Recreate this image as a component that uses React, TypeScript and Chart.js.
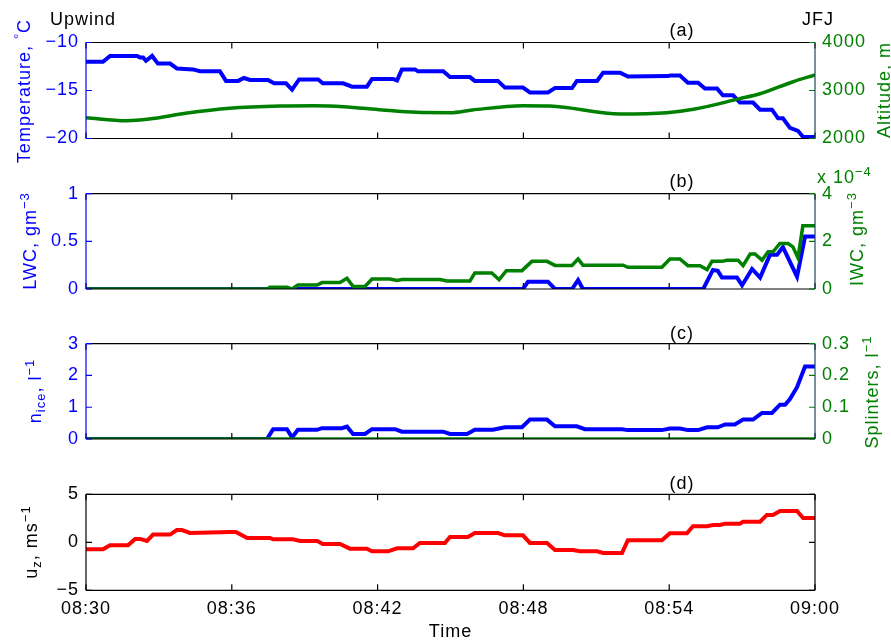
import {useEffect, useRef} from "react";
import {Chart, registerables} from "chart.js";

Chart.register(...registerables);

const BLUE = '#0000ff';
const GREEN = '#008000';
const RED = '#ff0000';
const RIGHT_AXIS = '#1d4a5c';
const FONT = '"Liberation Sans", Arial, Helvetica, sans-serif';
const SPACING = '1px';

// time axis, minutes after 08:30
const timeTickValues = [0, 6, 12, 18, 24, 30];
const timeTickLabels = ['08:30', '08:36', '08:42', '08:48', '08:54', '09:00'];

// (a) temperature, degC
const tempTime = [0, 0.70, 0.99, 2.10, 2.22, 2.35, 2.47, 2.72, 2.96, 3.46, 3.74, 4.40, 4.69, 5.51, 5.76, 6.26, 6.50, 6.75, 7.49, 7.74, 8.23, 8.48, 8.77, 9.55, 9.75, 10.58, 10.95, 11.56, 11.77, 12.63, 12.80, 13.00, 13.54, 13.66, 14.70, 14.98, 15.80, 16.00, 16.95, 17.24, 17.98, 18.27, 19.01, 19.30, 20.00, 20.20, 21.03, 21.28, 21.98, 22.30, 23.95, 24.03, 24.44, 24.77, 25.19, 25.47, 25.97, 26.21, 26.63, 26.91, 27.45, 27.74, 28.23, 28.48, 28.68, 28.97, 29.30, 29.51, 30];
const tempVals = [-12.0, -12.0, -11.4, -11.4, -11.55, -11.55, -11.9, -11.4, -12.2, -12.2, -12.7, -12.8, -13.0, -13.0, -14.0, -14.0, -13.7, -13.9, -13.9, -14.25, -14.25, -14.9, -13.85, -13.85, -14.25, -14.25, -14.6, -14.6, -13.8, -13.8, -13.95, -12.8, -12.8, -13.0, -13.0, -13.6, -13.6, -14.0, -14.0, -14.7, -14.7, -15.2, -15.2, -14.75, -14.75, -14.0, -14.0, -13.15, -13.15, -13.55, -13.5, -13.45, -13.45, -14.2, -14.2, -14.8, -14.8, -15.5, -15.5, -16.25, -16.25, -17.0, -17.0, -17.9, -17.9, -18.9, -19.2, -19.85, -19.85];

// (a) altitude, m
const altTime = [0, 1.67, 2.6, 4.1, 5.9, 8.0, 9.4, 10.6, 12.2, 13.6, 14.98, 15.9, 17.98, 19.1, 22.0, 23.9, 25.0, 26.9, 27.7, 29.1, 30];
const altVals = [2433, 2371, 2406, 2525, 2629, 2677, 2683, 2663, 2594, 2546, 2538, 2594, 2683, 2677, 2510, 2538, 2608, 2830, 2927, 3183, 3323];

// (b) LWC, g m^-3
const lwcTime = [0, 17.98, 18.19, 19.01, 19.30, 20.0, 20.25, 20.45, 25.4, 25.8, 26.0, 26.17, 26.79, 27.0, 27.41, 27.74, 28.15, 28.44, 28.68, 29.26, 29.59, 30];
const lwcVals = [0, 0, 0.077, 0.077, 0, 0, 0.094, 0, 0, 0.20, 0.19, 0.12, 0.12, 0.04, 0.21, 0.12, 0.36, 0.36, 0.44, 0.13, 0.55, 0.55];

// (b) IWC, x 10^-4 g m^-3
const iwcTime = [0, 7.45, 7.57, 8.27, 8.48, 8.72, 9.51, 9.71, 10.45, 10.74, 10.99, 11.48, 11.77, 12.51, 12.8, 13.0, 14.57, 14.86, 15.8, 16.0, 16.7, 17.0, 17.3, 17.94, 18.35, 18.97, 19.3, 20.0, 20.25, 20.45, 22.1, 22.3, 23.7, 24.03, 24.44, 24.77, 25.27, 25.56, 25.76, 26.17, 26.38, 26.83, 27.04, 27.33, 27.53, 27.82, 28.07, 28.27, 28.56, 28.89, 29.09, 29.3, 29.5, 30];
const iwcVals = [0, 0, 0.07, 0.07, 0, 0.17, 0.17, 0.27, 0.27, 0.45, 0.11, 0.11, 0.42, 0.42, 0.36, 0.40, 0.40, 0.34, 0.34, 0.67, 0.67, 0.39, 0.77, 0.77, 1.16, 1.16, 0.99, 0.99, 1.26, 1.0, 1.0, 0.91, 0.91, 1.26, 1.26, 0.98, 0.98, 0.81, 1.16, 1.16, 1.21, 1.21, 0.98, 1.47, 1.47, 1.21, 1.56, 1.56, 1.91, 1.91, 1.77, 1.30, 2.65, 2.65];

// (c) n_ice, l^-1
const niceTime = [0, 7.45, 7.7, 8.27, 8.48, 8.72, 9.51, 9.71, 10.53, 10.74, 10.99, 11.48, 11.77, 12.72, 13.0, 14.7, 14.98, 15.68, 16.0, 16.75, 17.24, 17.94, 18.27, 18.97, 19.3, 20.2, 20.53, 22.06, 22.3, 23.7, 24.03, 24.44, 24.77, 25.19, 25.56, 26.0, 26.3, 26.7, 27.04, 27.45, 27.82, 28.23, 28.56, 28.77, 28.97, 29.26, 29.59, 30];
const niceVals = [0, 0, 0.31, 0.31, 0.05, 0.29, 0.29, 0.34, 0.34, 0.39, 0.16, 0.16, 0.31, 0.31, 0.23, 0.23, 0.16, 0.16, 0.29, 0.29, 0.37, 0.37, 0.61, 0.61, 0.40, 0.40, 0.31, 0.31, 0.28, 0.28, 0.33, 0.33, 0.28, 0.28, 0.37, 0.37, 0.46, 0.46, 0.61, 0.61, 0.82, 0.82, 1.08, 1.08, 1.26, 1.63, 2.28, 2.28];

// (c) splinters, l^-1
const splTime = [0, 30];
const splVals = [0, 0];

// (d) vertical wind, m s^-1
const uzTime = [0, 0.70, 0.99, 1.73, 2.02, 2.22, 2.51, 2.76, 3.46, 3.74, 3.95, 4.28, 5.93, 6.17, 6.63, 7.57, 7.70, 8.52, 8.81, 9.51, 9.75, 10.45, 10.86, 11.56, 11.77, 12.43, 12.80, 13.46, 13.74, 14.77, 14.98, 15.72, 16.0, 16.95, 17.24, 17.98, 18.27, 18.97, 19.3, 20.04, 20.33, 21.03, 21.28, 22.06, 22.3, 23.7, 24.03, 24.73, 24.98, 25.56, 25.8, 26.09, 26.3, 26.91, 27.04, 27.74, 28.02, 28.27, 28.56, 29.26, 29.51, 30];
const uzVals = [-0.73, -0.73, -0.31, -0.31, 0.35, 0.35, 0.14, 0.8, 0.8, 1.28, 1.28, 0.97, 1.08, 1.08, 0.45, 0.45, 0.31, 0.31, 0.14, 0.14, -0.17, -0.17, -0.66, -0.66, -0.94, -0.94, -0.63, -0.63, -0.07, -0.07, 0.55, 0.55, 0.97, 0.97, 0.73, 0.73, -0.07, -0.07, -0.8, -0.8, -0.94, -0.94, -1.11, -1.11, 0.21, 0.21, 0.94, 0.94, 1.67, 1.67, 1.8, 1.8, 1.94, 1.94, 2.15, 2.15, 2.85, 2.85, 3.26, 3.26, 2.53, 2.53];

const W = 891;
const H = 643;
const panelTops = [42.5, 193.7, 343.7, 494.3];
const panelBottoms = [138.5, 289, 439, 590.3];

const pts = (t: number[], v: number[]) => t.map((x, i) => ({x, y: v[i]}));
const fmt = (v: number) => {
    const n = Number(Number(v).toFixed(2));
    return n < 0 ? '\u2212' + Math.abs(n) : String(n);
};

// wider text spacing like the printed figure
const spacingPlugin = {
    id: 'spacing',
    beforeUpdate(chart: any) {
        chart.ctx.letterSpacing = SPACING;
    },
    beforeDraw(chart: any) {
        chart.ctx.letterSpacing = SPACING;
    },
};

// matlab-like box with inward ticks
const framePlugin = {
    id: 'frame',
    afterDatasetsDraw(chart: any, _args: any, opts: any) {
        const {ctx, chartArea} = chart;
        const {left, right, top, bottom} = chartArea;
        const xs = chart.scales.x;
        const yl = chart.scales.y;
        const yr = chart.scales.y2 || yl;
        const tl = 6;
        ctx.save();
        ctx.lineWidth = 1.2;
        ctx.strokeStyle = '#000';
        ctx.beginPath();
        ctx.moveTo(left, top);
        ctx.lineTo(right, top);
        ctx.moveTo(left, bottom);
        ctx.lineTo(right, bottom);
        for (const v of timeTickValues) {
            const px = xs.getPixelForValue(v);
            ctx.moveTo(px, top);
            ctx.lineTo(px, top + tl);
            ctx.moveTo(px, bottom);
            ctx.lineTo(px, bottom - tl);
        }
        ctx.stroke();

        ctx.strokeStyle = opts.leftColor;
        ctx.beginPath();
        ctx.moveTo(left, top);
        ctx.lineTo(left, bottom);
        for (const t of yl.ticks) {
            const py = yl.getPixelForValue(t.value);
            ctx.moveTo(left, py);
            ctx.lineTo(left + tl, py);
        }
        ctx.stroke();

        ctx.strokeStyle = opts.rightTickColor;
        ctx.beginPath();
        for (const t of yr.ticks) {
            const py = yr.getPixelForValue(t.value);
            ctx.moveTo(right - tl, py);
            ctx.lineTo(right, py);
        }
        ctx.stroke();

        ctx.strokeStyle = opts.rightColor;
        ctx.beginPath();
        ctx.moveTo(right, top);
        ctx.lineTo(right, bottom);
        ctx.stroke();
        ctx.restore();
    }
};

const yAxis = (position: string, color: string, min: number, max: number, step: number, width: number, labels = true) => ({
    position,
    min,
    max,
    grid: {display: false, drawTicks: false},
    border: {display: false},
    ticks: {
        stepSize: step,
        color,
        padding: 7,
        display: labels,
        font: {family: FONT, size: 18},
        callback: (v: number) => fmt(v),
    },
    afterFit: (s: any) => {
        s.width = width;
    },
});

const hiddenX = {type: 'linear', min: 0, max: 30, display: false};

const shownX = {
    type: 'linear',
    min: 0,
    max: 30,
    grid: {display: false, drawTicks: false},
    border: {display: false},
    ticks: {
        stepSize: 6,
        padding: 8,
        color: '#000',
        maxRotation: 0,
        autoSkip: false,
        font: {family: FONT, size: 18},
        callback: (v: number) => timeTickLabels[timeTickValues.indexOf(v)] ?? '',
    },
    title: {display: true, text: 'Time', color: '#000', font: {family: FONT, size: 18}, padding: {top: 0, bottom: 0}},
    afterFit: (s: any) => {
        s.height = H - panelBottoms[3];
    },
};

const line = (data: {x: number, y: number}[], color: string, width: number, axis: string, extra = {}) => ({
    data,
    borderColor: color,
    backgroundColor: color,
    borderWidth: width,
    pointRadius: 0,
    fill: false,
    yAxisID: axis,
    ...extra,
});

const makeChart = (canvas: HTMLCanvasElement, i: number, datasets: any[], scales: any, frame: any, xShown = false) =>
    new Chart(canvas, {
        type: 'line',
        data: {datasets},
        options: {
            responsive: false,
            animation: false,
            events: [],
            layout: {padding: {top: panelTops[i], bottom: xShown ? 0 : H - panelBottoms[i], left: 0, right: 0}},
            plugins: {legend: {display: false}, tooltip: {enabled: false}, frame} as any,
            scales,
        },
        plugins: [spacingPlugin, framePlugin],
    });

const text = (style: any) => ({
    position: 'absolute' as const,
    fontFamily: FONT,
    fontSize: 18,
    lineHeight: 1,
    letterSpacing: SPACING,
    whiteSpace: 'nowrap' as const,
    ...style,
});

const rot = (cx: number, cy: number, color: string) =>
    text({left: cx, top: cy, color, transform: 'translate(-50%,-50%) rotate(-90deg)'});

const sup = {fontSize: '0.72em', verticalAlign: '0.55em', lineHeight: 0};
const sub = {fontSize: '0.72em', verticalAlign: '-0.3em', lineHeight: 0};

const App = () => {
    const aRef = useRef<HTMLCanvasElement>(null);
    const bRef = useRef<HTMLCanvasElement>(null);
    const cRef = useRef<HTMLCanvasElement>(null);
    const dRef = useRef<HTMLCanvasElement>(null);

    useEffect(() => {
        if (!aRef.current || !bRef.current || !cRef.current || !dRef.current) return;
        const charts = [
            makeChart(aRef.current, 0, [
                line(pts(altTime, altVals), GREEN, 3.5, 'y2', {cubicInterpolationMode: 'monotone'}),
                line(pts(tempTime, tempVals), BLUE, 4, 'y'),
            ], {
                x: hiddenX,
                y: yAxis('left', BLUE, -20, -10, 5, 86),
                y2: yAxis('right', GREEN, 2000, 4000, 1000, 76),
            }, {leftColor: BLUE, rightColor: RIGHT_AXIS, rightTickColor: GREEN}),
            makeChart(bRef.current, 1, [
                line(pts(iwcTime, iwcVals), GREEN, 3.5, 'y2'),
                line(pts(lwcTime, lwcVals), BLUE, 4, 'y'),
            ], {
                x: hiddenX,
                y: yAxis('left', BLUE, 0, 1, 0.5, 86),
                y2: yAxis('right', GREEN, 0, 4, 2, 76),
            }, {leftColor: BLUE, rightColor: RIGHT_AXIS, rightTickColor: GREEN}),
            makeChart(cRef.current, 2, [
                line(pts(splTime, splVals), GREEN, 3.5, 'y2'),
                line(pts(niceTime, niceVals), BLUE, 4, 'y'),
            ], {
                x: hiddenX,
                y: yAxis('left', BLUE, 0, 3, 1, 86),
                y2: yAxis('right', GREEN, 0, 0.3, 0.1, 76),
            }, {leftColor: BLUE, rightColor: RIGHT_AXIS, rightTickColor: GREEN}),
            makeChart(dRef.current, 3, [
                line(pts(uzTime, uzVals), RED, 4, 'y'),
            ], {
                x: shownX,
                y: yAxis('left', '#000', -5, 5, 5, 86),
                y2: yAxis('right', '#000', -5, 5, 5, 76, false),
            }, {leftColor: '#000', rightColor: '#000', rightTickColor: '#000'}, true),
        ];
        return () => {
            charts.forEach(c => c.destroy());
        };
    }, []);

    const cv = {position: 'absolute' as const, left: 0, top: 0, width: W, height: H};

    return (
        <div style={{position: 'fixed', left: 0, top: 0, width: W, height: H, background: '#fff', overflow: 'hidden'}}>
            <canvas ref={aRef} width={W} height={H} style={cv}/>
            <canvas ref={bRef} width={W} height={H} style={cv}/>
            <canvas ref={cRef} width={W} height={H} style={cv}/>
            <canvas ref={dRef} width={W} height={H} style={cv}/>

            <div style={text({left: 50, top: 10, color: '#000'})}>Upwind</div>
            <div style={text({left: 802, top: 10, color: '#000'})}>JFJ</div>
            <div style={text({left: 682, top: 29.5, color: '#000', transform: 'translate(-50%,-50%)'})}>(a)</div>
            <div style={text({left: 682, top: 180.5, color: '#000', transform: 'translate(-50%,-50%)'})}>(b)</div>
            <div style={text({left: 682, top: 332.5, color: '#000', transform: 'translate(-50%,-50%)'})}>(c)</div>
            <div style={text({left: 682, top: 483, color: '#000', transform: 'translate(-50%,-50%)'})}>(d)</div>

            <div style={rot(24, 91, BLUE)}>Temperature, <span style={sup}>{'\u00b0'}</span>C</div>
            <div style={rot(884, 90, GREEN)}>Altitude, m</div>

            <div style={rot(30, 241, BLUE)}>LWC, gm<span style={sup}>{'\u22123'}</span></div>
            <div style={rot(857, 239, GREEN)}>IWC, gm<span style={sup}>{'\u22123'}</span></div>
            <div style={text({left: 817, top: 168, color: GREEN})}>x 10<span style={sup}>{'\u22124'}</span></div>

            <div style={rot(35, 391, BLUE)}>n<span style={sub}>ice</span>, l<span style={sup}>{'\u22121'}</span></div>
            <div style={rot(872, 392, GREEN)}>Splinters, l<span style={sup}>{'\u22121'}</span></div>

            <div style={rot(31, 542, '#000')}>u<span style={sub}>z</span>, ms<span style={sup}>{'\u22121'}</span></div>
        </div>
    );
};

export default App;
